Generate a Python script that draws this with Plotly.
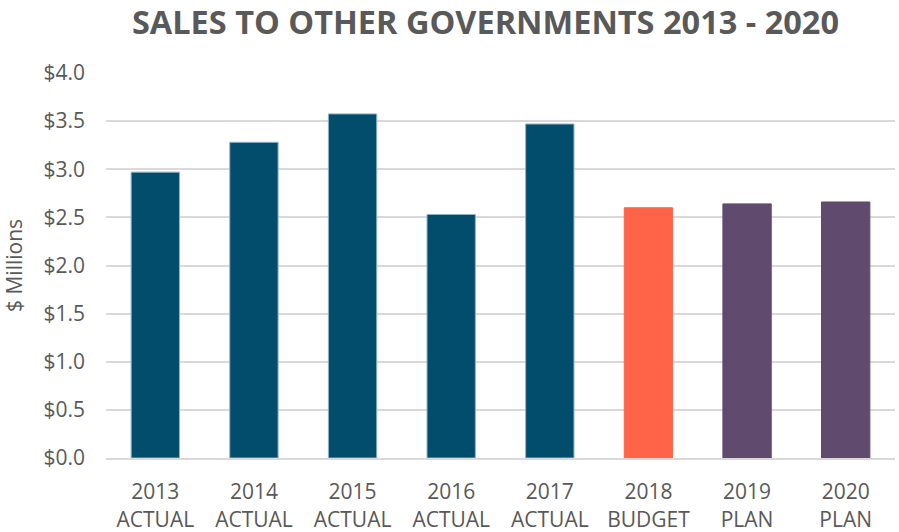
import plotly.graph_objects as go

years = ["2013", "2014", "2015", "2016", "2017", "2018", "2019", "2020"]
kinds = ["ACTUAL", "ACTUAL", "ACTUAL", "ACTUAL", "ACTUAL", "BUDGET", "PLAN", "PLAN"]
sales = [2.97, 3.28, 3.575, 2.53, 3.47, 2.60, 2.64, 2.66]

kind_colors = {"ACTUAL": "#024C6C", "BUDGET": "#FF6449", "PLAN": "#604A6E"}
edge_colors = {"ACTUAL": "#8DB3C7", "BUDGET": "#FF6449", "PLAN": "#604A6E"}

labels = [f"{y}<br>{k}" for y, k in zip(years, kinds)]
tick_vals = [0, 0.5, 1.0, 1.5, 2.0, 2.5, 3.0, 3.5, 4.0]
tick_text = [f"${v:.1f}" for v in tick_vals]

fig = go.Figure(
    go.Bar(
        x=labels,
        y=sales,
        marker=dict(
            color=[kind_colors[k] for k in kinds],
            line=dict(color=[edge_colors[k] for k in kinds], width=1),
        ),
        width=0.49,
        hoverinfo="x+y",
    )
)

font_family = "Open Sans, Liberation Sans, sans-serif"
text_gray = "#595959"

fig.update_layout(
    width=899,
    height=532,
    margin=dict(l=106, r=4, t=73, b=74),
    paper_bgcolor="white",
    plot_bgcolor="white",
    showlegend=False,
    title=dict(
        text="<b>SALES TO OTHER GOVERNMENTS 2013 - 2020</b>",
        x=0.54,
        xanchor="center",
        y=0.958,
        yanchor="middle",
        font=dict(family=font_family, size=32.5, color=text_gray),
    ),
    font=dict(family=font_family, color=text_gray),
)

fig.update_xaxes(
    showgrid=False,
    showline=True,
    linecolor="#D9D9D9",
    linewidth=2,
    ticks="",
    automargin=False,
    ticklabelstandoff=14,
    tickfont=dict(size=21, color=text_gray),
)

fig.update_yaxes(
    range=[0, 4.0],
    tickvals=tick_vals,
    ticktext=tick_text,
    showgrid=True,
    gridcolor="#D9D9D9",
    gridwidth=2,
    zeroline=False,
    showline=False,
    ticks="",
    automargin=False,
    ticklabelstandoff=20,
    tickfont=dict(size=21, color=text_gray),
    title=dict(text="$ Millions", font=dict(size=21, color=text_gray), standoff=22),
)

fig.write_html("out.html")
